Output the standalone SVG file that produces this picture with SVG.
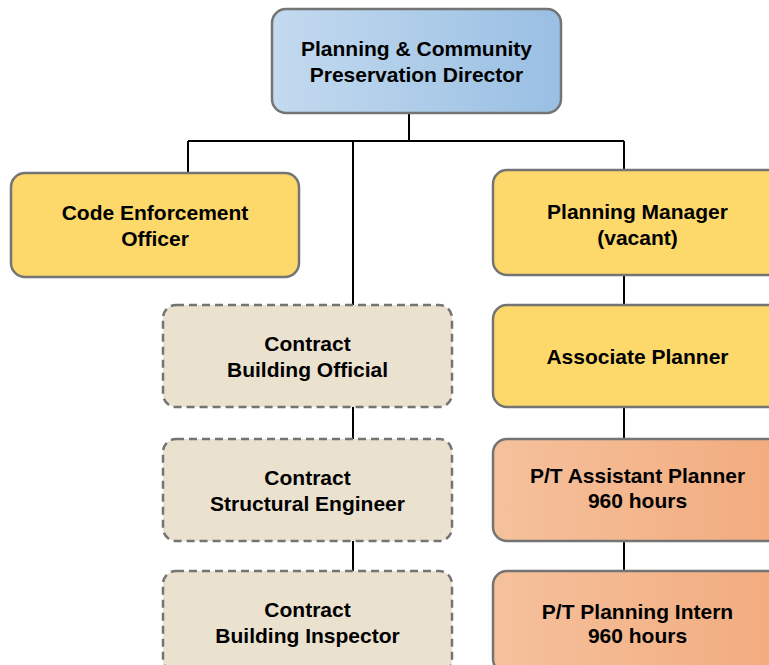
<svg xmlns="http://www.w3.org/2000/svg" width="769" height="665" viewBox="0 0 769 665">
<defs>
<linearGradient id="gBlue" x1="0" y1="0" x2="1" y2="0">
<stop offset="0" stop-color="#c3daef"/>
<stop offset="1" stop-color="#99bfe3"/>
</linearGradient>
<linearGradient id="gOrange" x1="0" y1="0" x2="1" y2="0">
<stop offset="0" stop-color="#f5c19c"/>
<stop offset="1" stop-color="#f2ab7e"/>
</linearGradient>
<style>
.box{stroke:#747474;stroke-width:2.5}
.yellow{fill:#fdd86b}
.beige{fill:#ebe1cf;stroke-dasharray:8 5}
.lines{stroke:#000;stroke-width:2;fill:none}
text{font-family:"Liberation Sans",Arial,sans-serif;font-weight:bold;font-size:21px;fill:#000;text-anchor:middle}
</style>
</defs>
<rect width="769" height="665" fill="#fff"/>
<g id="connectors" class="lines">
<path d="M409 113V141M188 141H624M188 141V173M624 141V170M353 141V305M353 407V439M353 541V571M624 275V305M624 407V439M624 541V571"/>
</g>
<g id="director">
<rect class="box" x="272" y="9" width="289" height="104" rx="14" fill="url(#gBlue)"/>
<text x="416.5" y="56">Planning &amp; Community</text>
<text x="416.5" y="82">Preservation Director</text>
</g>
<g id="code-enforcement">
<rect class="box yellow" x="11" y="173" width="288" height="104" rx="14"/>
<text x="155" y="220">Code Enforcement</text>
<text x="155" y="246">Officer</text>
</g>
<g id="building-official">
<rect class="box beige" x="163" y="305" width="289" height="102" rx="13"/>
<text x="307.5" y="351">Contract</text>
<text x="307.5" y="377">Building Official</text>
</g>
<g id="structural-engineer">
<rect class="box beige" x="163" y="439" width="289" height="102" rx="13"/>
<text x="307.5" y="485">Contract</text>
<text x="307.5" y="511">Structural Engineer</text>
</g>
<g id="building-inspector">
<rect class="box beige" x="163" y="571" width="289" height="102" rx="13"/>
<text x="307.5" y="617">Contract</text>
<text x="307.5" y="643">Building Inspector</text>
</g>
<g id="planning-manager">
<rect class="box yellow" x="493" y="170" width="289" height="105" rx="14"/>
<text x="637.5" y="219">Planning Manager</text>
<text x="637.5" y="245">(vacant)</text>
</g>
<g id="associate-planner">
<rect class="box yellow" x="493" y="305" width="289" height="102" rx="14"/>
<text x="637.5" y="364">Associate Planner</text>
</g>
<g id="assistant-planner">
<rect class="box" x="493" y="439" width="289" height="102" rx="14" fill="url(#gOrange)"/>
<text x="637.5" y="483">P/T Assistant Planner</text>
<text x="637.5" y="508">960 hours</text>
</g>
<g id="planning-intern">
<rect class="box" x="493" y="571" width="289" height="102" rx="14" fill="url(#gOrange)"/>
<text x="637.5" y="619">P/T Planning Intern</text>
<text x="637.5" y="643">960 hours</text>
</g>
</svg>
